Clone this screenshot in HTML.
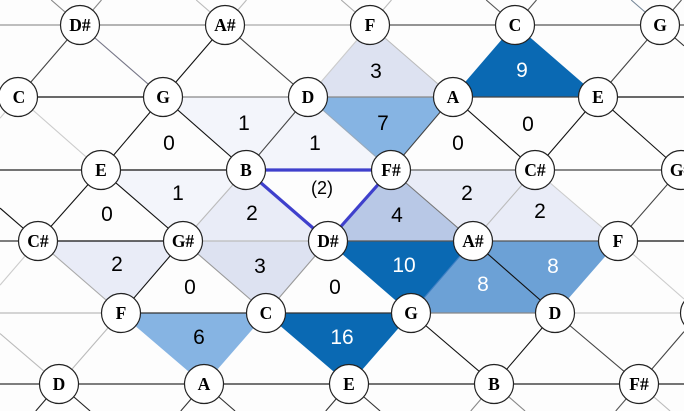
<!DOCTYPE html>
<html><head><meta charset="utf-8"><style>
html,body{margin:0;padding:0;background:#fdfdfd;width:684px;height:411px;overflow:hidden;}
svg{display:block;position:absolute;left:0;top:0;}
.n{font-family:"Liberation Serif",serif;font-weight:bold;font-size:17.5px;text-anchor:middle;fill:#000;}
.v{font-family:"Liberation Sans",sans-serif;font-size:21px;text-anchor:middle;fill:#000;}
.w{fill:#fff;}
</style></head><body>
<svg width="684" height="411" viewBox="0 0 684 411" xmlns="http://www.w3.org/2000/svg" overflow="hidden">
<defs><clipPath id="fr"><rect x="0" y="0" width="684" height="411"/></clipPath></defs>
<rect width="684" height="411" fill="#fdfdfd"/>
<g clip-path="url(#fr)">
<!-- shaded triangles -->
<g stroke="none">
<polygon points="370,25 308,97 453,97" fill="#dde2f1"/>
<polygon points="515,25 453,97 598,97" fill="#0a69b3"/>
<polygon points="163,97 308,97 246,170" fill="#f3f5fb"/>
<polygon points="308,97 246,170 391,170" fill="#f3f5fb"/>
<polygon points="308,97 453,97 391,170" fill="#86b4e3"/>
<polygon points="101,170 246,170 183,241" fill="#f3f5fb"/>
<polygon points="246,170 183,241 328,241" fill="#e9ecf7"/>
<polygon points="391,170 328,241 473,241" fill="#b8c8e6"/>
<polygon points="391,170 535,170 473,241" fill="#e9ecf7"/>
<polygon points="535,170 473,241 618,241" fill="#e9ecf7"/>
<polygon points="38,241 183,241 121,313" fill="#e9ecf7"/>
<polygon points="183,241 328,241 266,313" fill="#dde2f1"/>
<polygon points="328,241 473,241 411,313" fill="#0a69b3"/>
<polygon points="473,241 411,313 555,313" fill="#6ca1d6"/>
<polygon points="473,241 618,241 555,313" fill="#6ca1d6"/>
<polygon points="121,313 266,313 204,384" fill="#86b4e3"/>
<polygon points="266,313 411,313 349,384" fill="#0a69b3"/>
</g>
<!-- horizontal segments -->
<g stroke-width="1.2" fill="none">
<line x1="0" y1="25" x2="80" y2="25" stroke="#999"/>
<line x1="80" y1="25" x2="225" y2="25" stroke="#888"/>
<line x1="225" y1="25" x2="370" y2="25" stroke="#aaa"/>
<line x1="370" y1="25" x2="515" y2="25" stroke="#555"/>
<line x1="515" y1="25" x2="684" y2="25" stroke="#555"/>
<line x1="0" y1="97" x2="18" y2="97" stroke="#444"/>
<line x1="18" y1="97" x2="163" y2="97" stroke="#111"/>
<line x1="163" y1="97" x2="308" y2="97" stroke="#888"/>
<line x1="308" y1="97" x2="453" y2="97" stroke="#888"/>
<line x1="453" y1="97" x2="598" y2="97" stroke="#444"/>
<line x1="598" y1="97" x2="684" y2="97" stroke="#111"/>
<line x1="0" y1="170" x2="101" y2="170" stroke="#222"/>
<line x1="101" y1="170" x2="246" y2="170" stroke="#111"/>
<line x1="391" y1="170" x2="535" y2="170" stroke="#666"/>
<line x1="535" y1="170" x2="684" y2="170" stroke="#444"/>
<line x1="0" y1="241" x2="38" y2="241" stroke="#333"/>
<line x1="38" y1="241" x2="183" y2="241" stroke="#111"/>
<line x1="183" y1="241" x2="328" y2="241" stroke="#bbb"/>
<line x1="328" y1="241" x2="473" y2="241" stroke="#555"/>
<line x1="473" y1="241" x2="618" y2="241" stroke="#555"/>
<line x1="618" y1="241" x2="684" y2="241" stroke="#111"/>
<line x1="0" y1="313" x2="121" y2="313" stroke="#bbb"/>
<line x1="121" y1="313" x2="411" y2="313" stroke="#333"/>
<line x1="411" y1="313" x2="555" y2="313" stroke="#888"/>
<line x1="555" y1="313" x2="684" y2="313" stroke="#ccc"/>
<line x1="0" y1="384" x2="204" y2="384" stroke="#333"/>
<line x1="204" y1="384" x2="684" y2="384" stroke="#222"/>
</g>
<!-- diagonal edges -->
<g stroke-width="1.1" fill="none" stroke="#333">
<line x1="51.2" y1="0" x2="80" y2="25" stroke="#888"/>
<line x1="101.5" y1="0" x2="80" y2="25" stroke="#888"/>
<line x1="196.2" y1="0" x2="225" y2="25" stroke="#bbb"/>
<line x1="246.5" y1="0" x2="225" y2="25" stroke="#bbb"/>
<line x1="341.2" y1="0" x2="370" y2="25" stroke="#aaa"/>
<line x1="391.5" y1="0" x2="370" y2="25" stroke="#bbb"/>
<line x1="486.2" y1="0" x2="515" y2="25" stroke="#555"/>
<line x1="536.5" y1="0" x2="515" y2="25" stroke="#555"/>
<line x1="631.2" y1="0" x2="660" y2="25" stroke="#789"/>
<line x1="681.5" y1="0" x2="660" y2="25" stroke="#555"/>
<line x1="80" y1="25" x2="18" y2="97" stroke="#444"/>
<line x1="80" y1="25" x2="163" y2="97" stroke="#778"/>
<line x1="225" y1="25" x2="163" y2="97" stroke="#111"/>
<line x1="225" y1="25" x2="308" y2="97" stroke="#444"/>
<line x1="370" y1="25" x2="308" y2="97" stroke="#ccc"/>
<line x1="370" y1="25" x2="453" y2="97" stroke="#bbb"/>
<line x1="515" y1="25" x2="453" y2="97" stroke="#0a69b3"/>
<line x1="515" y1="25" x2="598" y2="97" stroke="#0a69b3"/>
<line x1="660" y1="25" x2="598" y2="97" stroke="#444"/>
<line x1="660" y1="25" x2="684" y2="45.8" stroke="#333"/>
<line x1="18" y1="97" x2="0" y2="118.2" stroke="#ccc"/>
<line x1="18" y1="97" x2="101" y2="170" stroke="#ccc"/>
<line x1="163" y1="97" x2="101" y2="170" stroke="#111"/>
<line x1="163" y1="97" x2="246" y2="170" stroke="#111"/>
<line x1="308" y1="97" x2="246" y2="170" stroke="#444"/>
<line x1="308" y1="97" x2="391" y2="170" stroke="#9ab"/>
<line x1="453" y1="97" x2="391" y2="170" stroke="#444"/>
<line x1="453" y1="97" x2="535" y2="170" stroke="#111"/>
<line x1="598" y1="97" x2="535" y2="170" stroke="#111"/>
<line x1="598" y1="97" x2="680" y2="170" stroke="#111"/>
<line x1="0" y1="208.1" x2="38" y2="241" stroke="#111"/>
<line x1="101" y1="170" x2="38" y2="241" stroke="#111"/>
<line x1="101" y1="170" x2="183" y2="241" stroke="#111"/>
<line x1="246" y1="170" x2="183" y2="241" stroke="#bbb"/>
<line x1="391" y1="170" x2="473" y2="241" stroke="#777"/>
<line x1="535" y1="170" x2="473" y2="241" stroke="#bbb"/>
<line x1="535" y1="170" x2="618" y2="241" stroke="#ccc"/>
<line x1="680" y1="170" x2="618" y2="241" stroke="#444"/>
<line x1="38" y1="241" x2="0" y2="285.1" stroke="#ccc"/>
<line x1="38" y1="241" x2="121" y2="313" stroke="#aaa"/>
<line x1="183" y1="241" x2="121" y2="313" stroke="#111"/>
<line x1="183" y1="241" x2="266" y2="313" stroke="#999"/>
<line x1="328" y1="241" x2="266" y2="313" stroke="#999"/>
<line x1="328" y1="241" x2="411" y2="313" stroke="#0a69b3"/>
<line x1="473" y1="241" x2="411" y2="313" stroke="#3d7fc4"/>
<line x1="473" y1="241" x2="555" y2="313" stroke="#111"/>
<line x1="618" y1="241" x2="555" y2="313" stroke="#6ca1d6"/>
<line x1="618" y1="241" x2="684" y2="299" stroke="#ccc"/>
<line x1="0" y1="333.5" x2="59" y2="384" stroke="#bbb"/>
<line x1="121" y1="313" x2="59" y2="384" stroke="#bbb"/>
<line x1="121" y1="313" x2="204" y2="384" stroke="#86b4e3"/>
<line x1="266" y1="313" x2="204" y2="384" stroke="#86b4e3"/>
<line x1="266" y1="313" x2="349" y2="384" stroke="#0a69b3"/>
<line x1="411" y1="313" x2="349" y2="384" stroke="#0a69b3"/>
<line x1="411" y1="313" x2="494" y2="384" stroke="#111"/>
<line x1="555" y1="313" x2="494" y2="384" stroke="#111"/>
<line x1="555" y1="313" x2="639" y2="384" stroke="#444"/>
<line x1="684" y1="331.6" x2="639" y2="384" stroke="#444"/>
<line x1="59" y1="384" x2="35.75" y2="411" stroke="#222"/>
<line x1="59" y1="384" x2="90.1" y2="411" stroke="#222"/>
<line x1="204" y1="384" x2="180.75" y2="411" stroke="#333"/>
<line x1="204" y1="384" x2="235.1" y2="411" stroke="#333"/>
<line x1="349" y1="384" x2="325.75" y2="411" stroke="#333"/>
<line x1="349" y1="384" x2="380.1" y2="411" stroke="#333"/>
<line x1="494" y1="384" x2="470.75" y2="411" stroke="#888"/>
<line x1="494" y1="384" x2="525.1" y2="411" stroke="#888"/>
<line x1="639" y1="384" x2="615.75" y2="411" stroke="#555"/>
<line x1="639" y1="384" x2="670.1" y2="411" stroke="#bbb"/>
</g>
<!-- bold blue triangle edges -->
<g stroke="#3f40cc" stroke-width="3.2" fill="none">
<line x1="246" y1="170" x2="391" y2="170"/>
<line x1="246" y1="170" x2="328" y2="241"/>
<line x1="391" y1="170" x2="328" y2="241"/>
</g>
<!-- node circles -->
<g fill="#fff" stroke="#222" stroke-width="1.2">
<circle cx="80" cy="25" r="19.5"/><circle cx="225" cy="25" r="19.5"/><circle cx="370" cy="25" r="19.5"/><circle cx="515" cy="25" r="19.5"/><circle cx="660" cy="25" r="19.5"/>
<circle cx="18" cy="97" r="19.5"/><circle cx="163" cy="97" r="19.5"/><circle cx="308" cy="97" r="19.5"/><circle cx="453" cy="97" r="19.5"/><circle cx="598" cy="97" r="19.5"/>
<circle cx="101" cy="170" r="19.5"/><circle cx="246" cy="170" r="19.5"/><circle cx="391" cy="170" r="19.5"/><circle cx="535" cy="170" r="19.5"/><circle cx="681" cy="170" r="19.5"/>
<circle cx="38" cy="241" r="19.5"/><circle cx="183" cy="241" r="19.5"/><circle cx="328" cy="241" r="19.5"/><circle cx="473" cy="241" r="19.5"/><circle cx="618" cy="241" r="19.5"/>
<circle cx="121" cy="313" r="19.5"/><circle cx="266" cy="313" r="19.5"/><circle cx="411" cy="313" r="19.5"/><circle cx="555" cy="313" r="19.5"/><circle cx="700" cy="313" r="19.5"/>
<circle cx="59" cy="384" r="19.5"/><circle cx="204" cy="384" r="19.5"/><circle cx="349" cy="384" r="19.5"/><circle cx="494" cy="384" r="19.5"/><circle cx="639" cy="384" r="19.5"/>
</g>
<!-- node labels -->
<g class="n">
<text x="80" y="31" class="n">D#</text><text x="225" y="31" class="n">A#</text><text x="370" y="31" class="n">F</text><text x="515" y="31" class="n">C</text><text x="660" y="31" class="n">G</text>
<text x="19" y="103" class="n">C</text><text x="163" y="103" class="n">G</text><text x="308" y="103" class="n">D</text><text x="453" y="103" class="n">A</text><text x="598" y="103" class="n">E</text>
<text x="101" y="176" class="n">E</text><text x="246" y="176" class="n">B</text><text x="391" y="176" class="n">F#</text><text x="535" y="176" class="n">C#</text><text x="681" y="176" class="n">G#</text>
<text x="38" y="247" class="n">C#</text><text x="183" y="247" class="n">G#</text><text x="328" y="247" class="n">D#</text><text x="473" y="247" class="n">A#</text><text x="618" y="247" class="n">F</text>
<text x="121" y="319" class="n">F</text><text x="266" y="319" class="n">C</text><text x="411" y="319" class="n">G</text><text x="555" y="319" class="n">D</text>
<text x="59" y="390" class="n">D</text><text x="204" y="390" class="n">A</text><text x="349" y="390" class="n">E</text><text x="494" y="390" class="n">B</text><text x="639" y="390" class="n">F#</text>
</g>
<!-- values -->
<g>
<text x="376" y="78" class="v">3</text>
<text x="522" y="77" class="v w">9</text>
<text x="169" y="150" class="v">0</text>
<text x="244" y="130" class="v">1</text>
<text x="315" y="150" class="v">1</text>
<text x="383" y="130" class="v">7</text>
<text x="458" y="150" class="v">0</text>
<text x="528" y="131" class="v">0</text>
<text x="178" y="200" class="v">1</text>
<text x="107" y="221" class="v">0</text>
<text x="252" y="220" class="v">2</text>
<text x="322" y="194" class="v" style="font-size:18px">(2)</text>
<text x="397" y="222" class="v">4</text>
<text x="467" y="200" class="v">2</text>
<text x="540" y="218" class="v">2</text>
<text x="117" y="271" class="v">2</text>
<text x="190" y="294" class="v">0</text>
<text x="260" y="273" class="v">3</text>
<text x="335" y="294" class="v">0</text>
<text x="404" y="272" class="v w">10</text>
<text x="483" y="291" class="v w">8</text>
<text x="553" y="273" class="v w">8</text>
<text x="199" y="344" class="v">6</text>
<text x="342" y="344" class="v w">16</text>
</g>
</g>
</svg>
</body></html>
